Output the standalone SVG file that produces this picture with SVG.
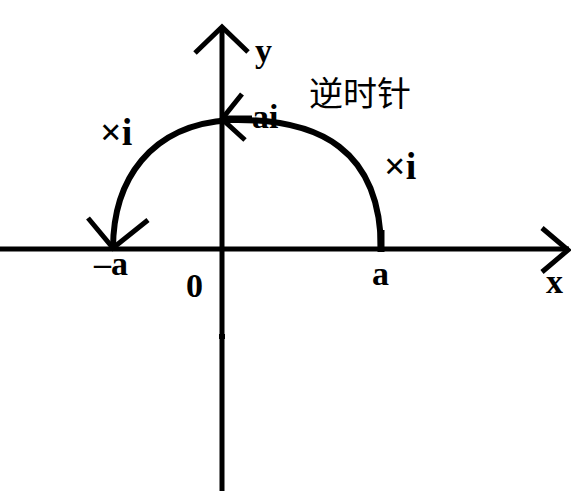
<svg xmlns="http://www.w3.org/2000/svg" width="571" height="491" viewBox="0 0 571 491">
<style>
.ax{stroke:#000;stroke-width:5;fill:none;stroke-linecap:butt;stroke-linejoin:miter}
.arc{stroke:#000;stroke-width:6;fill:none;stroke-linecap:butt}
.lb{font-family:"Liberation Serif","Times New Roman",serif;font-weight:bold;font-size:34px;fill:#000}
.xi{font-size:38px}
.cn{font-family:"Noto Sans CJK SC",sans-serif;font-size:34px;fill:#000}
</style>
<rect width="571" height="491" fill="#fff"/>
<g id="connectors">
<path class="ax" d="M0 249 H569"/>
<path class="ax" d="M542 228 L568 250 L542 272"/>
<path class="ax" d="M222 491 V28"/>
<path class="ax" d="M195 53 L222 27 L248 52"/>
<path class="arc" d="M381 250 C381 150 320 118 230 120 C150 125 113 180 113 249"/>
<path class="ax" d="M242 94 L222 119 L245 140"/>
<path class="ax" d="M222 118 H252"/>
<path class="ax" d="M88 218 L113 248 L148 220"/>
<path class="ax" d="M381 230 V252" style="stroke-width:7"/>
<rect x="219" y="334" width="6" height="5" fill="#000"/>
</g>
<g id="label-y"><text class="lb" x="255" y="62">y</text></g>
<g id="label-ai"><text class="lb" x="252" y="128">ai</text></g>
<g id="label-ccw"><text class="cn" x="309" y="106">逆时针</text></g>
<g id="label-xi-left"><text class="lb xi" x="100" y="145">×i</text></g>
<g id="label-xi-right"><text class="lb xi" x="384" y="179">×i</text></g>
<g id="label-neg-a"><text class="lb" x="94" y="275">–a</text></g>
<g id="label-a"><text class="lb" x="372" y="285">a</text></g>
<g id="label-x"><text class="lb" x="546" y="293">x</text></g>
<g id="label-0"><text class="lb" x="186" y="297">0</text></g>
</svg>
